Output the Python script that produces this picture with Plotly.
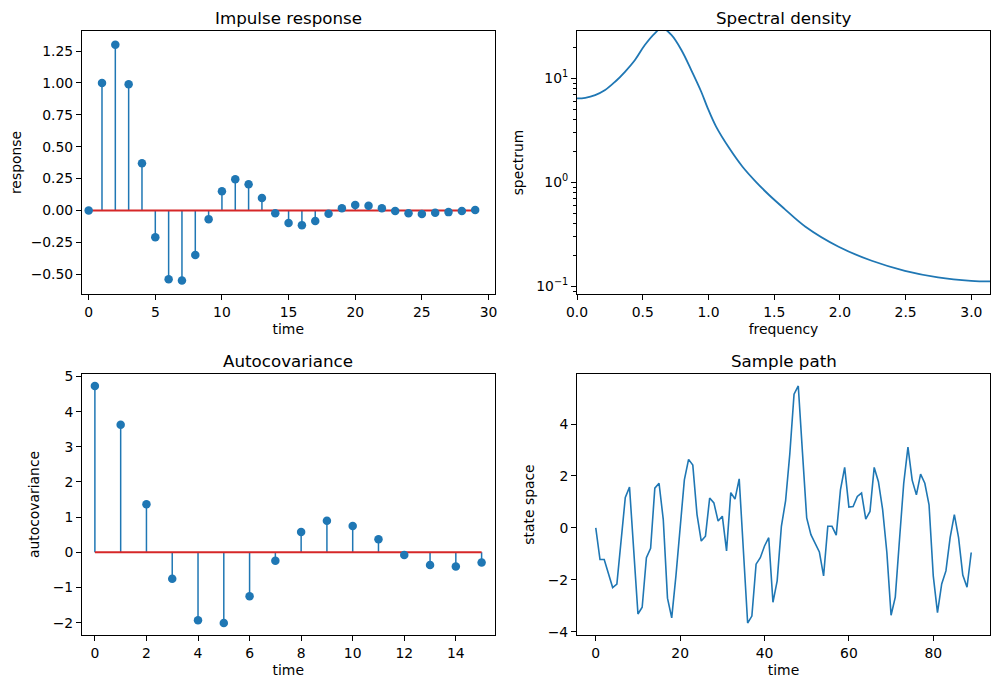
import plotly.graph_objects as go

# impulse response, t = 0..29
impulse_t = list(range(30))
impulse = [0.0, 1.0, 1.30, 0.99, 0.37, -0.21, -0.54, -0.55, -0.35, -0.068,
           0.151, 0.245, 0.206, 0.097, -0.021, -0.099, -0.115, -0.083, -0.026, 0.018,
           0.042, 0.037, 0.018, -0.005, -0.021, -0.028, -0.018, -0.013, -0.005, 0.003]

# spectral density
freq = [0.0, 0.063, 0.138, 0.214, 0.29, 0.365, 0.441, 0.516, 0.592, 0.647, 0.718,
        0.794, 0.869, 0.945, 0.995, 1.058, 1.159, 1.259, 1.361, 1.461, 1.574,
        1.738, 1.99, 2.242, 2.494, 2.746, 2.998, 3.1416]
spectrum = [6.40, 6.50, 6.90, 7.72, 9.27, 11.56, 15.0, 20.9, 27.1, 30.5, 26.1,
            18.7, 12.0, 7.43, 5.14, 3.43, 2.12, 1.41, 1.01, 0.755, 0.562,
            0.374, 0.240, 0.176, 0.141, 0.122, 0.113, 0.1115]

# autocovariance, lags 0..15
acov_t = list(range(16))
acov = [4.73, 3.63, 1.37, -0.75, -1.93, -2.01, -1.25, -0.24, 0.58, 0.90,
        0.75, 0.37, -0.075, -0.36, -0.40, -0.29]

# sample path, t = 0..89
path_t = list(range(90))
path = [0.0, -1.22, -1.22, -1.72, -2.30, -2.17, -0.57, 1.17, 1.57, -1.08,
        -3.32, -3.06, -1.15, -0.79, 1.53, 1.72, 0.32, -2.71, -3.47, -1.85,
        -0.05, 1.85, 2.64, 2.42, 0.51, -0.51, -0.32, 1.15, 0.96, 0.26,
        0.45, -0.89, 1.36, 1.11, 1.89, -1.08, -3.67, -3.40, -1.40, -1.15,
        -0.70, -0.38, -2.87, -2.04, 0.06, 1.05, 2.86, 5.15, 5.47, 2.90,
        0.38, -0.26, -0.57, -0.93, -1.85, 0.06, 0.06, -0.28, 1.46, 2.33,
        0.80, 0.82, 1.21, 1.34, 0.34, 0.63, 2.33, 1.78, 0.70, -0.95,
        -3.37, -2.67, -0.45, 1.72, 3.11, 1.84, 1.27, 2.07, 1.72, 0.89,
        -1.85, -3.27, -2.16, -1.66, -0.38, 0.51, -0.38, -1.82, -2.29, -0.95]

BLUE = "#1f77b4"
RED = "#d62728"
FONT = "DejaVu Sans"

# page body adds an 8px margin, so the figure is drawn a bit smaller
OFF = 8
W, H = 999 - OFF, 690 - OFF


def fx(px):
    return (px - OFF) / W


def fy(py):
    return 1 - (py - OFF) / H


fig = go.Figure()


def add_stem(t, v, xa, ya):
    sx, sy = [], []
    for a, b in zip(t, v):
        sx += [a, a, None]
        sy += [0, b, None]
    fig.add_trace(go.Scatter(x=sx, y=sy, mode="lines", line=dict(color=BLUE, width=1.5),
                             xaxis=xa, yaxis=ya, showlegend=False))
    fig.add_trace(go.Scatter(x=[t[0], t[-1]], y=[0, 0], mode="lines",
                             line=dict(color=RED, width=2), xaxis=xa, yaxis=ya, showlegend=False))
    fig.add_trace(go.Scatter(x=t, y=v, mode="markers", marker=dict(color=BLUE, size=8.5),
                             xaxis=xa, yaxis=ya, showlegend=False))


add_stem(impulse_t, impulse, "x", "y")
fig.add_trace(go.Scatter(x=freq, y=spectrum, mode="lines", line=dict(color=BLUE, width=1.8),
                         line_shape="spline", xaxis="x2", yaxis="y2", showlegend=False))
add_stem(acov_t, acov, "x3", "y3")
fig.add_trace(go.Scatter(x=path_t, y=path, mode="lines", line=dict(color=BLUE, width=1.6),
                         xaxis="x4", yaxis="y4", showlegend=False))

ax_common = dict(showline=True, linecolor="black", linewidth=1, mirror=True,
                 ticks="outside", ticklen=5, tickcolor="black", showgrid=False,
                 zeroline=False, automargin=False,
                 tickfont=dict(size=13.9, color="black"),
                 title_font=dict(size=13.9, color="black"))
xt = dict(standoff=5)
yt = dict(standoff=9)

L1, R1 = fx(82), fx(494.5)
L2, R2 = fx(577), fx(990)
T1, B1 = fy(31), fy(294)
T2, B2 = fy(374), fy(635)

fig.update_layout(
    width=W, height=H,
    margin=dict(l=0, r=0, t=0, b=0),
    paper_bgcolor="white", plot_bgcolor="white",
    font=dict(family=FONT, color="black"),
    xaxis=dict(domain=[L1, R1], anchor="y", range=[-0.5, 30.45], tickvals=list(range(0, 31, 5)),
               title=dict(text="time", **xt), **ax_common),
    yaxis=dict(domain=[B1, T1], anchor="x", range=[-0.655, 1.407],
               tickvals=[-0.5, -0.25, 0, 0.25, 0.5, 0.75, 1.0, 1.25], tickformat=".2f",
               title=dict(text="response", **yt), **ax_common),
    xaxis2=dict(domain=[L2, R2], anchor="y2", range=[0, 3.1416],
                tickvals=[0, 0.5, 1, 1.5, 2, 2.5, 3], tickformat=".1f",
                title=dict(text="frequency", **xt), **ax_common),
    yaxis2=dict(domain=[B1, T1], anchor="x2", type="log", range=[-1.074, 1.455],
                tickvals=[0.1, 1, 10], ticktext=["10<sup>−1</sup>", "10<sup>0</sup>", "10<sup>1</sup>"],
                minor=dict(ticks="outside", ticklen=2.8, tickcolor="black",
                           tickvals=[0.09, 0.2, 0.3, 0.4, 0.5, 0.6, 0.7, 0.8, 0.9,
                                     2, 3, 4, 5, 6, 7, 8, 9, 20]),
                title=dict(text="spectrum", **yt), **ax_common),
    xaxis3=dict(domain=[L1, R1], anchor="y3", range=[-0.5, 15.5], tickvals=list(range(0, 16, 2)),
                title=dict(text="time", **xt), **ax_common),
    yaxis3=dict(domain=[B2, T2], anchor="x3", range=[-2.35, 5.07], tickvals=list(range(-2, 6)),
                title=dict(text="autocovariance", **yt), **ax_common),
    xaxis4=dict(domain=[L2, R2], anchor="y4", range=[-4.45, 93.45], tickvals=[0, 20, 40, 60, 80],
                title=dict(text="time", **xt), **ax_common),
    yaxis4=dict(domain=[B2, T2], anchor="x4", range=[-4.13, 5.93], tickvals=[-4, -2, 0, 2, 4],
                title=dict(text="state space", **yt), **ax_common),
)

titles = [("Impulse response", (L1 + R1) / 2, T1), ("Spectral density", (L2 + R2) / 2, T1),
          ("Autocovariance", (L1 + R1) / 2, T2), ("Sample path", (L2 + R2) / 2, T2)]
for text, x, y in titles:
    fig.add_annotation(text=text, x=x, y=y, xref="paper", yref="paper", xanchor="center",
                       yanchor="bottom", yshift=1, showarrow=False,
                       font=dict(size=16.7, color="black", family=FONT))

fig.write_html("out.html")
